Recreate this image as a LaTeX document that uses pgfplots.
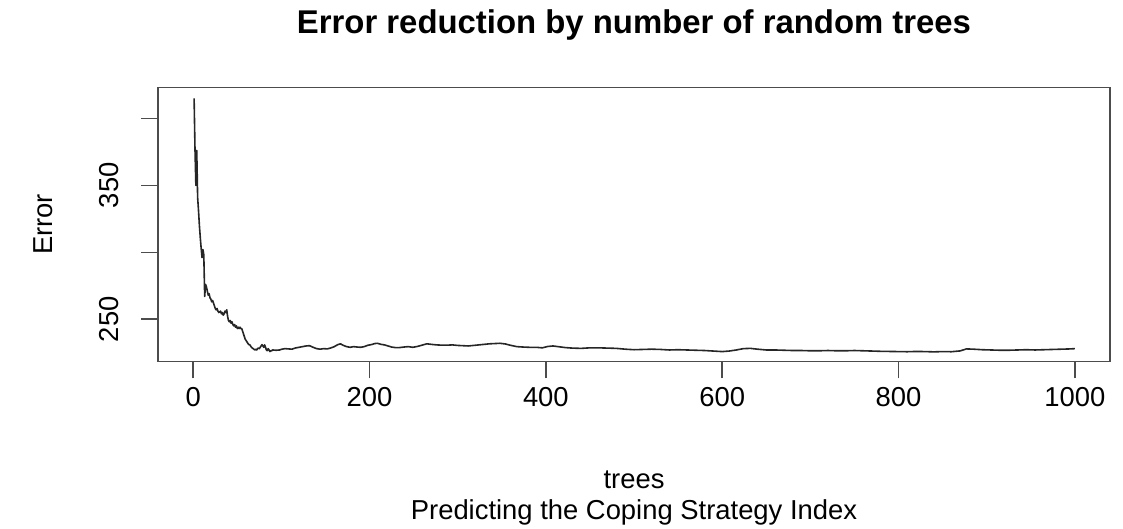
\documentclass[border=0pt]{standalone}
\usepackage{fontspec}
\setmainfont{Liberation Sans}
\usepackage{pgfplots}
\pgfplotsset{compat=1.18}
\pgfplotstableread{
x y
1 415
2 377
3 350
4 376
5 341
6 331
7 320
8 311
9 303
10 296
11 302
12 298
13 267
14 276
15 274
16 271
17 268
18 269
19 266
20 265
21 263
22 264
23 262
24 260
25 258
26 257
27 258
28 256
29 255
30 255.5
31 256
32 254
33 255
34 253
35 254
36 256
37 255
38 257
39 252
40 249
41 248
42 249
43 247
44 248
45 246
46 245
47 246
48 244
49 245
50 243
51 244
52 243
53 244
54 243
55 243
56 241
57 239
58 237
59 235
60 234
61 233
62 232
63 231
64 231
65 230
66 229
67 228.5
68 228
69 227.5
70 227
71 227.5
72 227
73 228
74 228.5
75 228
76 229
77 230
78 231
79 230
80 229
81 230.8
82 229
83 227
84 226.5
85 228
86 227
87 225.8
88 226.5
89 226.3
90 227
94 226.8
98 227
100 227.5
104 228
108 227.8
112 227.6
116 228.5
120 229
124 229.5
128 230
132 230.2
136 229
140 228
144 227.6
148 228
152 227.8
156 228.5
160 229.5
164 231
167 231.6
170 230.5
174 229.5
178 229
182 229.5
186 229.2
190 229
194 229.5
198 230.5
202 231
206 231.8
209 232
213 231.2
217 230.8
221 230
225 229.2
229 228.8
234 228.8
239 229.2
244 229.5
249 229
254 229.6
259 230.5
265 231.6
270 231.2
276 230.8
282 230.6
288 230.6
294 230.8
300 230.4
306 230.2
312 230
318 230.4
324 230.8
330 231.2
336 231.6
342 231.8
348 232
354 231.5
360 230.5
367 229.5
374 229.2
381 229
389 229
396 228.6
402 229.6
408 230
415 229.4
422 228.8
430 228.4
440 228.2
450 228.6
460 228.6
470 228.4
480 228.2
490 227.6
500 227.2
510 227.4
520 227.6
530 227.4
540 227
550 227.2
560 227
570 226.8
580 226.6
590 226.2
600 225.8
608 226.2
616 227
624 228
632 228.2
640 227.6
650 227
660 227
670 226.8
680 226.6
690 226.6
700 226.4
710 226.4
720 226.6
730 226.4
740 226.4
750 226.6
760 226.4
770 226.2
780 226
790 225.9
800 225.8
810 225.7
820 225.9
830 225.8
840 225.6
850 225.8
860 225.7
870 226.3
877 227.8
885 227.6
895 227.2
905 227
915 226.8
925 226.8
935 227
945 227.2
955 227
965 227.2
975 227.4
985 227.6
995 227.8
1000 228
}\errdata
\begin{document}
\begin{tikzpicture}[x=1bp,y=1bp]
\path[use as bounding box] (0,0) rectangle (1123,529);
\begin{axis}[
  at={(158bp,167.5bp)}, anchor=south west,
  width=952bp, height=274bp, scale only axis,
  xmin=-39.96, xmax=1039.96, ymin=218.4, ymax=423.1,
  xtick={0,200,400,600,800,1000},
  ytick={250,300,350,400}, yticklabels={250,,350,},
  xtick pos=left, ytick pos=left,
  tick align=outside, major tick length=17bp,
  axis line style={draw=black!70, line width=1.5bp},
  every tick/.style={draw=black!70, line width=1.5bp},
  /pgf/number format/assume math mode=true,
  /pgf/number format/1000 sep={},
  ticklabel style={font=\fontsize{27.5}{32}\selectfont},
  xticklabel style={anchor=center, yshift=-19bp},
  yticklabel style={xshift=-32bp, rotate=90, anchor=center},
]
\addplot[black!85, line width=1.6bp, line join=round] table[x=x, y=y] {\errdata};
\end{axis}
\node[anchor=base, font=\fontsize{33}{38}\selectfont\bfseries] at (634,495) {Error reduction by number of random trees};
\node[anchor=base, font=\fontsize{27.5}{32}\selectfont] at (634,40.7) {trees};
\node[anchor=base, font=\fontsize{27.5}{32}\selectfont] at (634,9) {Predicting the Coping Strategy Index};
\node[anchor=center, rotate=90, font=\fontsize{27.5}{32}\selectfont] at (43,304.6) {Error};
\end{tikzpicture}
\end{document}
